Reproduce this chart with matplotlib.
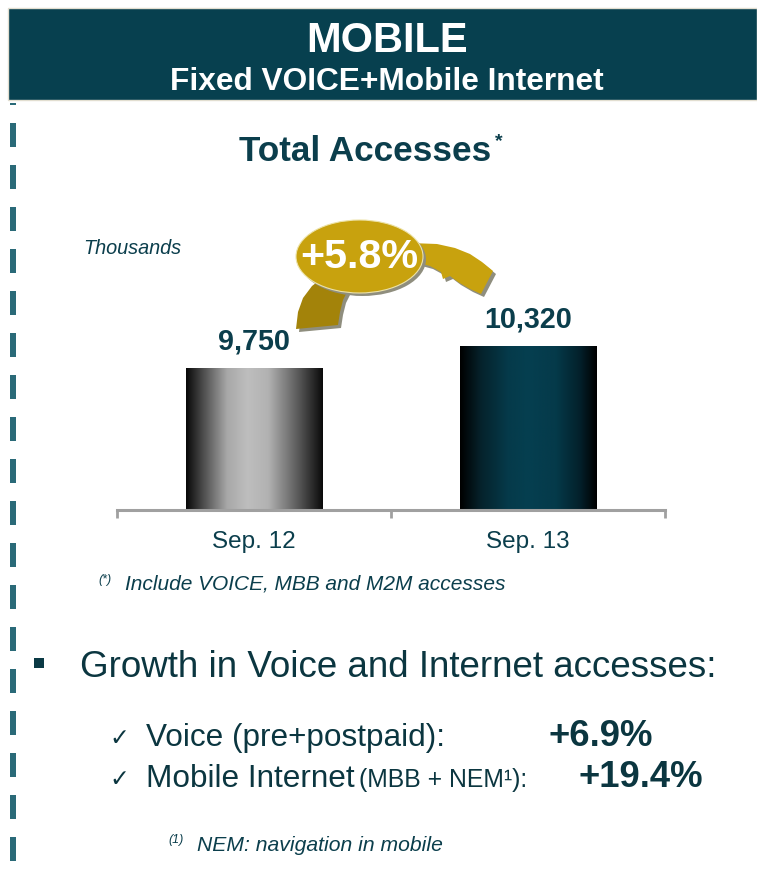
#!/usr/bin/env python
"""
Mobile accesses slide: total accesses bar chart plus growth summary
"""

import numpy as np
import matplotlib
matplotlib.use('Agg')
import matplotlib.pyplot as plt
from matplotlib.patches import Rectangle, Ellipse, Polygon
from matplotlib.colors import LinearSegmentedColormap

# --- data --------------------------------------------------------------
periods = ['Sep. 12', 'Sep. 13']
accesses = [9750, 10320]          # thousands
growth_items = ['Voice (pre+postpaid):', 'Mobile Internet']
growth_notes = ['', '(MBB + NEM\u00b9):']
growth_values = ['+6.9%', '+19.4%']

DARK = '#0B3E4C'
HEADER = '#07404F'
GOLD = '#C8A20E'
GOLD_DARK = '#A3830A'
SHADOW = '#8F8E7E'

plt.rcParams['font.family'] = ['Liberation Sans', 'DejaVu Sans']

W, H = 757, 872
fig = plt.figure(figsize=(W / 100, H / 100), dpi=100)
fig.patch.set_facecolor('white')

# --- bar chart -----------------------------------------------------------
ax = fig.add_axes([117 / W, (H - 510) / H, 548 / W, 220 / H])
x = np.arange(len(periods))
bars = ax.bar(x, accesses, width=0.5, bottom=0, color='none', zorder=2)

gray_cm = LinearSegmentedColormap.from_list('gray_bar', [
    (0.0, '#080808'), (0.12, '#4a4a4a'), (0.3, '#a8a8a8'), (0.45, '#bebebe'),
    (0.6, '#b2b2b2'), (0.82, '#5a5a5a'), (1.0, '#0a0a0a')])
teal_cm = LinearSegmentedColormap.from_list('teal_bar', [
    (0.0, '#000000'), (0.15, '#06222b'), (0.35, '#053a4a'), (0.5, '#053f50'),
    (0.7, '#053a4a'), (0.88, '#03202a'), (1.0, '#000000')])
grad = np.linspace(0, 1, 256).reshape(1, -1)
for bar, cm in zip(bars, [gray_cm, teal_cm]):
    x0, w = bar.get_x(), bar.get_width()
    im = ax.imshow(grad, cmap=cm, aspect='auto', zorder=1,
                   extent=(x0, x0 + w, 6000, bar.get_height()))
    im.set_clip_path(bar)
ax.set_xlim(-0.5, len(periods) - 0.5)
ax.set_ylim(6000, 11800)

for bar, v in zip(bars, accesses):
    ax.annotate(f'{v:,}', (bar.get_x() + bar.get_width() / 2, v),
                xytext=(0, 13.5), textcoords='offset points', ha='center',
                va='baseline', fontsize=20.7, fontweight='bold', color=DARK)

for s in ['top', 'left', 'right']:
    ax.spines[s].set_visible(False)
ax.spines['bottom'].set_color('#A0A0A0')
ax.spines['bottom'].set_linewidth(2.2)
ax.set_yticks([])
ax.set_xticks(x)
ax.set_xticklabels(periods, fontsize=17.5, color=DARK)
ax.tick_params(axis='x', which='major', length=0, pad=15)
ax.set_xticks([-0.5, 0.5, 1.5], minor=True)
ax.tick_params(axis='x', which='minor', length=6, width=2, color='#A0A0A0')
ax.patch.set_alpha(0)

# --- overlay in pixel coordinates ---------------------------------------
ov = fig.add_axes([0, 0, 1, 1], zorder=5)
ov.set_xlim(0, W)
ov.set_ylim(H, 0)
ov.axis('off')
ov.patch.set_alpha(0)

# header band
ov.add_patch(Rectangle((8, 8), W - 8, 92, facecolor=HEADER,
                       edgecolor='#E2DED0', lw=1))
ov.text(387, 52, 'MOBILE', ha='center', va='baseline', fontsize=30,
        fontweight='bold', color='white')
ov.text(387, 90, 'Fixed VOICE+Mobile Internet', ha='center', va='baseline',
        fontsize=22.8, fontweight='bold', color='white')

# dashed rule on the left
ov.add_patch(Rectangle((9.5, 103), 6, 2, color='#2A6A78', lw=0))
for y0 in range(123, 862, 42):
    ov.add_patch(Rectangle((9.5, y0), 6, 24, color='#2A6A78', lw=0))

ov.text(239, 161, 'Total Accesses', ha='left', va='baseline', fontsize=25.3,
        fontweight='bold', color=DARK)
ov.text(495, 146, '*', ha='left', va='baseline', fontsize=14,
        fontweight='bold', color=DARK)
ov.text(83, 254, 'Thousands', ha='left', va='baseline', fontsize=14.3,
        style='italic', color=DARK)

# growth bubble with curved tails
left_tail = [(296, 329), (298, 312), (303, 298), (312, 286), (325, 276),
             (350, 270), (348, 290), (343, 300), (340, 312), (338, 325)]
right_tail = [(410, 243), (437, 244), (455, 248), (470, 254), (482, 262),
              (493, 271), (481, 294), (470, 289), (458, 282), (450, 276),
              (443, 279), (441, 272), (430, 266), (415, 262)]
for pts, col in [(left_tail, GOLD_DARK), (right_tail, GOLD)]:
    ov.add_patch(Polygon([(px + 3, py + 3) for px, py in pts],
                         facecolor=SHADOW, lw=0))
    ov.add_patch(Polygon(pts, facecolor=col, lw=0))
ov.add_patch(Ellipse((362.5, 259.5), 127, 73, facecolor=SHADOW, lw=0))
ov.add_patch(Ellipse((359.5, 256.5), 127, 73, facecolor=GOLD,
                     edgecolor='#EDE3A8', lw=0.8))
growth = accesses[1] / accesses[0] - 1
ov.text(359, 257, f'{growth:+.1%}', ha='center', va='center', fontsize=29.7,
        fontweight='bold', color='white')

# footnote under the chart
ov.text(98, 583, '(*)', ha='left', va='baseline', fontsize=9,
        style='italic', color=DARK)
ov.text(125, 589, 'Include VOICE, MBB and M2M accesses', ha='left',
        va='baseline', fontsize=15, style='italic', color=DARK)

# growth summary
ov.add_patch(Rectangle((34, 658), 10, 10, color='#0B3A45', lw=0))
ov.text(80, 677, 'Growth in Voice and Internet accesses:', ha='left',
        va='baseline', fontsize=26.5, color='#0B3640')
for i, (item, note, val) in enumerate(zip(growth_items, growth_notes,
                                          growth_values)):
    yb = 746 + 41 * i
    ov.text(109, yb - 1, '\u2713', ha='left', va='baseline', fontsize=17,
            color='#0B3640', family='DejaVu Sans')
    ov.text(146, yb, item, ha='left', va='baseline', fontsize=22.7,
            color='#0B3640')
    if note:
        ov.text(359, yb, note, ha='left', va='baseline', fontsize=17.8,
                color='#0B3640')
    ov.text(548 + 30 * i, yb, val, ha='left', va='baseline', fontsize=26.3,
            fontweight='bold', color='#0B3640')

ov.text(168, 843, '(1)', ha='left', va='baseline', fontsize=9,
        style='italic', color=DARK)
ov.text(197, 851, 'NEM: navigation in mobile', ha='left', va='baseline',
        fontsize=15.2, style='italic', color=DARK)

fig.savefig('out.png', dpi=100)
